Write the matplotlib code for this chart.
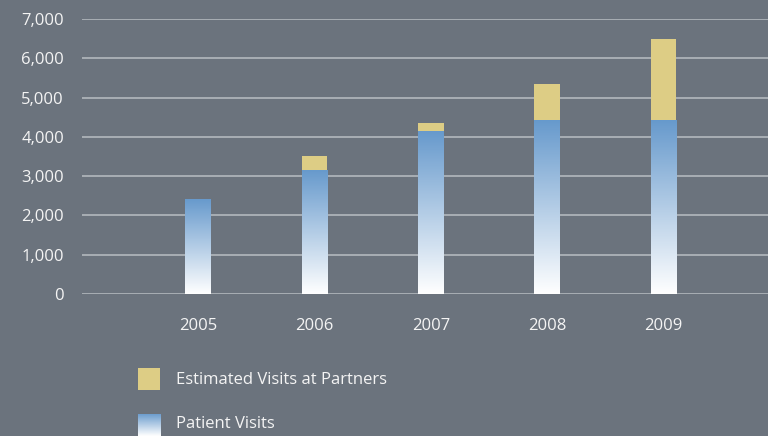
import numpy as np
import matplotlib
matplotlib.use("Agg")
from matplotlib import pyplot as plt
from matplotlib.patches import Rectangle
from matplotlib.colors import LinearSegmentedColormap

years = ["2005", "2006", "2007", "2008", "2009"]
patient_visits = [2420, 3160, 4150, 4440, 4430]
partner_visits = [0, 350, 200, 900, 2060]
labels = ["Estimated Visits at Partners", "Patient Visits"]

BG = "#6b737d"
GRID = "#b3b8bd"
TEXT = "#f4f4f4"
YELLOW = "#ddcd85"
BLUE = "#6699cc"

plt.rcParams['font.family'] = ['Open Sans', 'DejaVu Sans']

grad = LinearSegmentedColormap.from_list("grad", ["#ffffff", BLUE])
grad_img = np.linspace(0, 1, 256).reshape(-1, 1)

fig = plt.figure(figsize=(7.68, 4.36), dpi=100, facecolor=BG)
ax = fig.add_axes([82 / 768, (436 - 294) / 436, 1 - 82 / 768, 275 / 436])
ax.set_facecolor(BG)

x = np.arange(len(years))
width = 0.22

for i in x:
    # gradient bar for patient visits
    rect = Rectangle((i - width / 2, 0), width, patient_visits[i],
                     facecolor="none", edgecolor="none", zorder=3)
    ax.add_patch(rect)
    im = ax.imshow(grad_img, cmap=grad, aspect="auto", origin="lower",
                   extent=(i - width / 2, i + width / 2, 0, patient_visits[i]),
                   zorder=3)
    im.set_clip_path(rect)

ax.bar(x, partner_visits, width, bottom=patient_visits, color=YELLOW, zorder=3)

ax.set_xlim(-1, 4.9)
ax.set_ylim(0, 7000)
ax.set_yticks(np.arange(0, 7001, 1000))
ax.set_yticklabels([f"{v:,}" for v in range(0, 7001, 1000)])
ax.set_xticks(x)
ax.set_xticklabels(years)
ax.tick_params(axis="y", length=0, pad=13, labelsize=12, labelcolor=TEXT)
ax.tick_params(axis="x", length=0, pad=17, labelsize=12, labelcolor=TEXT)
ax.grid(axis="y", color=GRID, linewidth=1.2, zorder=1)
ax.set_axisbelow(True)
for s in ax.spines.values():
    s.set_visible(False)

# legend
W, H = 768, 436
fig.patches.append(Rectangle((138 / W, (H - 390) / H), 22 / W, 22 / H,
                             transform=fig.transFigure, facecolor=YELLOW,
                             edgecolor="none"))
lax = fig.add_axes([138 / W, (H - 436) / H, 23 / W, 22 / H])
lax.imshow(grad_img, cmap=grad, aspect="auto", origin="lower")
lax.axis("off")
fig.text(176 / W, (H - 380) / H, labels[0], color=TEXT, fontsize=12, va="center")
fig.text(176 / W, (H - 424) / H, labels[1], color=TEXT, fontsize=12, va="center")

fig.savefig("out.png", dpi=100, facecolor=BG)
